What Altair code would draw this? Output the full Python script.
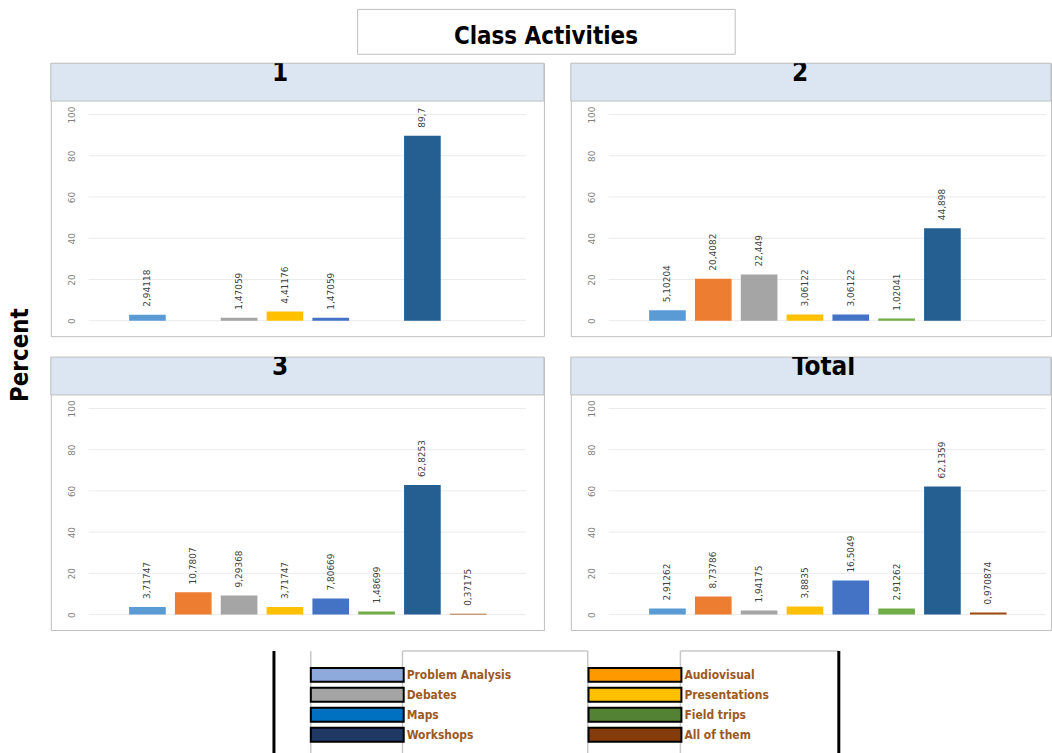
import altair as alt
import pandas as pd

# Activity categories in plotting order (x slots)
categories = [
    "Problem Analysis", "Audiovisual", "Debates", "Presentations",
    "Maps", "Field trips", "Workshops", "All of them",
]

# Percent per category for each group (None = no responses)
pct_1 = [2.94118, None, 1.47059, 4.41176, 1.47059, None, 89.7, None]
pct_2 = [5.10204, 20.4082, 22.449, 3.06122, 3.06122, 1.02041, 44.898, None]
pct_3 = [3.71747, 10.7807, 9.29368, 3.71747, 7.80669, 1.48699, 62.8253, 0.37175]
pct_total = [2.91262, 8.73786, 1.94175, 3.8835, 16.5049, 2.91262, 62.1359, 0.970874]

bar_colors = ["#5B9BD5", "#ED7D31", "#A5A5A5", "#FFC000",
              "#4472C4", "#70AD47", "#255E91", "#9E480E"]

# Legend entries, two columns of four
legend_left = ["Problem Analysis", "Debates", "Maps", "Workshops"]
legend_right = ["Audiovisual", "Presentations", "Field trips", "All of them"]
legend_left_colors = ["#8EA9DB", "#A5A5A5", "#0070C0", "#203864"]
legend_right_colors = ["#FF9900", "#FFC000", "#548235", "#843C0C"]

y_ticks = [0, 20, 40, 60, 80, 100]

HEAD_FONT = "DejaVu Sans Condensed, DejaVu Sans"
SMALL_FONT = "DejaVu Sans"
BORDER = "#BFBFBF"
PANEL_H = 274
STRIP_H = 38


def panel(name, values, width):
    """One framed panel: shaded title strip on top, bar chart below."""
    df = pd.DataFrame([{"cat": c, "pct": v} for c, v in zip(categories, values) if v is not None])
    x_enc = alt.X("cat:N", sort=categories,
                  scale=alt.Scale(domain=categories, range=[74, 442],
                                  paddingInner=0.2, paddingOuter=0.1),
                  axis=None)
    # 0..100 occupies the area under the strip, with a small margin above and below
    y_scale = alt.Scale(domain=[-7.5, 124.9], nice=False, zero=False)
    y_axis = alt.Axis(values=y_ticks, title=None, domain=False, ticks=False, grid=False,
                      offset=-30, labelPadding=4, labelAngle=270, labelAlign="center",
                      labelBaseline="bottom", labelFontSize=9, labelFont=SMALL_FONT,
                      labelColor="#7F7F7F")
    name_df = pd.DataFrame({"panel": [name]})
    strip = (
        alt.Chart(name_df).mark_rect(fill="#DCE6F2", stroke=BORDER, strokeWidth=1)
        .encode(x=alt.value(0), x2=alt.value(width), y=alt.value(0), y2=alt.value(STRIP_H))
    )
    strip_text = (
        alt.Chart(name_df)
        .mark_text(align="left", baseline="alphabetic", fontSize=26, clip=True,
                   fontWeight="bold", font=HEAD_FONT, color="black")
        .encode(x=alt.value(222), y=alt.value(18), text="panel:N")
    )
    grid = (
        alt.Chart(pd.DataFrame({"pct": y_ticks}))
        .mark_rule(color="#EBEBEB", strokeWidth=1)
        .encode(y=alt.Y("pct:Q", scale=y_scale, axis=y_axis),
                x=alt.value(38), x2=alt.value(477))
    )
    bars = (
        alt.Chart(df).mark_bar()
        .encode(x=x_enc,
                y=alt.Y("pct:Q", scale=y_scale, axis=y_axis),
                y2=alt.datum(0),
                color=alt.Color("cat:N", scale=alt.Scale(domain=categories, range=bar_colors),
                                legend=None))
    )
    labels = (
        alt.Chart(df)
        .transform_calculate(label="replace(toString(datum.pct), '.', ',')")
        .mark_text(angle=270, align="left", baseline="middle", dx=8,
                   fontSize=9, font=SMALL_FONT, color="#404040")
        .encode(x=x_enc, y=alt.Y("pct:Q", scale=y_scale, axis=y_axis), text="label:N")
    )
    return alt.layer(grid, bars, labels, strip, strip_text).properties(
        width=width, height=PANEL_H,
        view=alt.ViewBackground(fill="white", stroke=BORDER, strokeWidth=1))


row1 = alt.hconcat(panel("1", pct_1, 495), panel("2", pct_2, 482), spacing=25)
row2 = alt.hconcat(panel("3", pct_3, 495), panel("Total", pct_total, 482), spacing=25)

percent_label = (
    alt.Chart(pd.DataFrame({"t": ["Percent"]}))
    .mark_text(angle=270, align="center", baseline="middle", fontSize=24,
               fontWeight="bold", font=HEAD_FONT, color="black")
    .encode(x=alt.value(21), y=alt.value(293), text="t:N")
    .properties(width=50, height=568, view=alt.ViewBackground(stroke=None))
)

middle = alt.hconcat(percent_label, alt.vconcat(row1, row2, spacing=19), spacing=0)

# Title box
one = pd.DataFrame({"t": ["Class Activities"]})
title_box = (
    alt.Chart(one).mark_rect(fill="white", stroke=BORDER, strokeWidth=1)
    .encode(x=alt.value(359), x2=alt.value(738), y=alt.value(0), y2=alt.value(45))
)
title_text = (
    alt.Chart(one).mark_text(align="center", baseline="alphabetic", fontSize=24,
                             fontWeight="bold", font=HEAD_FONT, color="black")
    .encode(x=alt.value(548), y=alt.value(35), text="t:N")
)
title_chart = alt.layer(title_box, title_text).properties(
    width=1052, height=53, view=alt.ViewBackground(stroke=None))

# Legend
legend_df = pd.DataFrame(
    [{"name": n, "col": 0, "row": i} for i, n in enumerate(legend_left)]
    + [{"name": n, "col": 1, "row": i} for i, n in enumerate(legend_right)]
)
lx_scale = alt.Scale(domain=[0, 1], range=[312, 684], paddingInner=0.6655, paddingOuter=0)
ly_scale = alt.Scale(domain=[0, 1, 2, 3], range=[34, 114], paddingInner=0.3, paddingOuter=0.15)
swatches = (
    alt.Chart(legend_df).mark_rect(stroke="black", strokeWidth=2)
    .encode(x=alt.X("col:O", scale=lx_scale, axis=None),
            y=alt.Y("row:O", scale=ly_scale, axis=None),
            fill=alt.Fill("name:N",
                          scale=alt.Scale(domain=legend_left + legend_right,
                                          range=legend_left_colors + legend_right_colors),
                          legend=None))
)
swatch_text = (
    alt.Chart(legend_df).mark_text(align="left", baseline="middle", dx=3, fontSize=12,
                                   fontWeight="bold", font=HEAD_FONT, color="#9C5A1E")
    .encode(x=alt.X("col:O", scale=lx_scale, axis=None, bandPosition=1),
            y=alt.Y("row:O", scale=ly_scale, axis=None),
            text="name:N")
)
dummy = pd.DataFrame({"k": [0]})
frame = []
for xv in [312, 404, 590, 683]:
    frame.append(alt.Chart(dummy).mark_rule(color="#C8C8C8", strokeWidth=1.5)
                 .encode(x=alt.value(xv), y=alt.value(20), y2=alt.value(130)))
for x0, x1 in [(404, 590), (683, 842)]:
    frame.append(alt.Chart(dummy).mark_rule(color="#C8C8C8", strokeWidth=1.5)
                 .encode(x=alt.value(x0), x2=alt.value(x1), y=alt.value(20)))
for xv in [275, 842]:
    frame.append(alt.Chart(dummy).mark_rule(color="black", strokeWidth=3)
                 .encode(x=alt.value(xv), y=alt.value(20), y2=alt.value(130)))
legend_chart = alt.layer(*frame, swatches, swatch_text).properties(
    width=1052, height=123, view=alt.ViewBackground(stroke=None))

chart = (
    alt.vconcat(title_chart, middle, legend_chart, spacing=0)
    .properties(padding={"left": 0, "top": 7, "right": 0, "bottom": 0},
                background="white")
    .configure_view(stroke=None)
)

chart.save("out.html", embed_options={"renderer": "svg", "actions": False})
